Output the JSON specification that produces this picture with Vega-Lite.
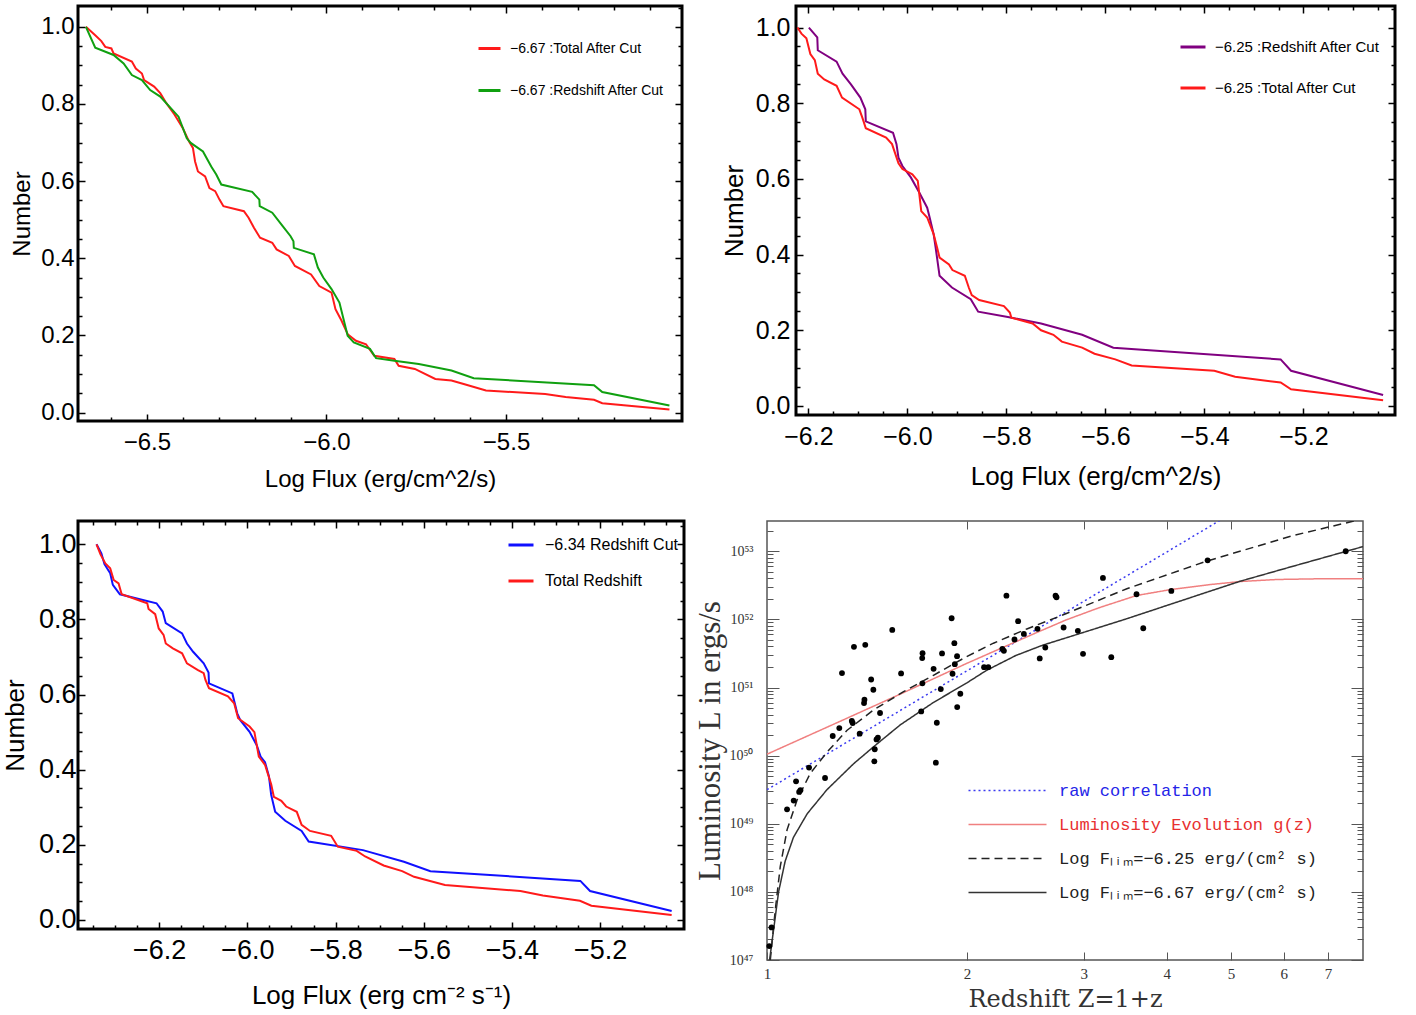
{
"$schema": "https://vega.github.io/schema/vega-lite/v6.json",
"background": "white",
"padding": {"left": 0, "top": 3, "right": 5, "bottom": 5},
"config": {
  "font": "Liberation Sans",
  "view": {"stroke": "black", "strokeWidth": 3},
  "axis": {"domain": false, "grid": false, "labelColor": "black", "titleColor": "black", "titleFontWeight": "normal", "tickColor": "black", "tickWidth": 1.5, "labelOverlap": false, "labelFlush": false, "labelBound": false}
},
"datasets": {
"tl": [
{"x":-6.670,"n":1.0,"s":"T"},{"x":-6.644,"n":0.978,"s":"T"},{"x":-6.627,"n":0.963,"s":"T"},{"x":-6.616,"n":0.948,"s":"T"},{"x":-6.599,"n":0.944,"s":"T"},{"x":-6.593,"n":0.931,"s":"T"},{"x":-6.542,"n":0.910,"s":"T"},{"x":-6.531,"n":0.892,"s":"T"},{"x":-6.514,"n":0.879,"s":"T"},{"x":-6.508,"n":0.862,"s":"T"},{"x":-6.480,"n":0.845,"s":"T"},{"x":-6.463,"n":0.828,"s":"T"},{"x":-6.446,"n":0.802,"s":"T"},{"x":-6.423,"n":0.772,"s":"T"},{"x":-6.400,"n":0.737,"s":"T"},{"x":-6.383,"n":0.703,"s":"T"},{"x":-6.372,"n":0.686,"s":"T"},{"x":-6.366,"n":0.651,"s":"T"},{"x":-6.358,"n":0.625,"s":"T"},{"x":-6.338,"n":0.612,"s":"T"},{"x":-6.326,"n":0.582,"s":"T"},{"x":-6.310,"n":0.574,"s":"T"},{"x":-6.298,"n":0.552,"s":"T"},{"x":-6.287,"n":0.535,"s":"T"},{"x":-6.230,"n":0.522,"s":"T"},{"x":-6.217,"n":0.505,"s":"T"},{"x":-6.202,"n":0.479,"s":"T"},{"x":-6.185,"n":0.453,"s":"T"},{"x":-6.151,"n":0.440,"s":"T"},{"x":-6.139,"n":0.423,"s":"T"},{"x":-6.105,"n":0.406,"s":"T"},{"x":-6.088,"n":0.380,"s":"T"},{"x":-6.043,"n":0.358,"s":"T"},{"x":-6.020,"n":0.328,"s":"T"},{"x":-5.986,"n":0.311,"s":"T"},{"x":-5.975,"n":0.268,"s":"T"},{"x":-5.958,"n":0.238,"s":"T"},{"x":-5.941,"n":0.203,"s":"T"},{"x":-5.918,"n":0.186,"s":"T"},{"x":-5.890,"n":0.177,"s":"T"},{"x":-5.867,"n":0.147,"s":"T"},{"x":-5.811,"n":0.139,"s":"T"},{"x":-5.799,"n":0.121,"s":"T"},{"x":-5.754,"n":0.113,"s":"T"},{"x":-5.697,"n":0.087,"s":"T"},{"x":-5.652,"n":0.083,"s":"T"},{"x":-5.618,"n":0.074,"s":"T"},{"x":-5.556,"n":0.057,"s":"T"},{"x":-5.391,"n":0.048,"s":"T"},{"x":-5.334,"n":0.040,"s":"T"},{"x":-5.255,"n":0.033,"s":"T"},{"x":-5.232,"n":0.024,"s":"T"},{"x":-5.045,"n":0.008,"s":"T"},
{"x":-6.670,"n":1.0,"s":"R"},{"x":-6.644,"n":0.946,"s":"R"},{"x":-6.593,"n":0.927,"s":"R"},{"x":-6.565,"n":0.905,"s":"R"},{"x":-6.542,"n":0.875,"s":"R"},{"x":-6.514,"n":0.862,"s":"R"},{"x":-6.491,"n":0.836,"s":"R"},{"x":-6.463,"n":0.819,"s":"R"},{"x":-6.412,"n":0.767,"s":"R"},{"x":-6.389,"n":0.711,"s":"R"},{"x":-6.378,"n":0.699,"s":"R"},{"x":-6.344,"n":0.677,"s":"R"},{"x":-6.321,"n":0.638,"s":"R"},{"x":-6.307,"n":0.617,"s":"R"},{"x":-6.293,"n":0.591,"s":"R"},{"x":-6.207,"n":0.572,"s":"R"},{"x":-6.187,"n":0.552,"s":"R"},{"x":-6.186,"n":0.535,"s":"R"},{"x":-6.151,"n":0.518,"s":"R"},{"x":-6.122,"n":0.483,"s":"R"},{"x":-6.100,"n":0.457,"s":"R"},{"x":-6.092,"n":0.444,"s":"R"},{"x":-6.091,"n":0.427,"s":"R"},{"x":-6.035,"n":0.410,"s":"R"},{"x":-6.024,"n":0.376,"s":"R"},{"x":-6.009,"n":0.350,"s":"R"},{"x":-5.986,"n":0.320,"s":"R"},{"x":-5.964,"n":0.285,"s":"R"},{"x":-5.941,"n":0.199,"s":"R"},{"x":-5.924,"n":0.182,"s":"R"},{"x":-5.879,"n":0.165,"s":"R"},{"x":-5.862,"n":0.141,"s":"R"},{"x":-5.811,"n":0.134,"s":"R"},{"x":-5.743,"n":0.126,"s":"R"},{"x":-5.652,"n":0.109,"s":"R"},{"x":-5.590,"n":0.089,"s":"R"},{"x":-5.255,"n":0.071,"s":"R"},{"x":-5.232,"n":0.053,"s":"R"},{"x":-5.045,"n":0.018,"s":"R"}
],
"tr": [
{"x":-6.199,"n":1.0,"s":"R"},{"x":-6.182,"n":0.974,"s":"R"},{"x":-6.181,"n":0.940,"s":"R"},{"x":-6.143,"n":0.910,"s":"R"},{"x":-6.131,"n":0.878,"s":"R"},{"x":-6.114,"n":0.850,"s":"R"},{"x":-6.095,"n":0.815,"s":"R"},{"x":-6.085,"n":0.784,"s":"R"},{"x":-6.084,"n":0.752,"s":"R"},{"x":-6.029,"n":0.722,"s":"R"},{"x":-6.022,"n":0.692,"s":"R"},{"x":-6.018,"n":0.656,"s":"R"},{"x":-6.010,"n":0.634,"s":"R"},{"x":-5.993,"n":0.604,"s":"R"},{"x":-5.976,"n":0.564,"s":"R"},{"x":-5.960,"n":0.524,"s":"R"},{"x":-5.955,"n":0.498,"s":"R"},{"x":-5.947,"n":0.454,"s":"R"},{"x":-5.943,"n":0.419,"s":"R"},{"x":-5.935,"n":0.344,"s":"R"},{"x":-5.910,"n":0.313,"s":"R"},{"x":-5.872,"n":0.282,"s":"R"},{"x":-5.857,"n":0.249,"s":"R"},{"x":-5.797,"n":0.235,"s":"R"},{"x":-5.730,"n":0.218,"s":"R"},{"x":-5.647,"n":0.188,"s":"R"},{"x":-5.584,"n":0.154,"s":"R"},{"x":-5.246,"n":0.123,"s":"R"},{"x":-5.225,"n":0.093,"s":"R"},{"x":-5.039,"n":0.029,"s":"R"},
{"x":-6.222,"n":1.0,"s":"T"},{"x":-6.214,"n":0.984,"s":"T"},{"x":-6.204,"n":0.972,"s":"T"},{"x":-6.196,"n":0.930,"s":"T"},{"x":-6.187,"n":0.914,"s":"T"},{"x":-6.181,"n":0.878,"s":"T"},{"x":-6.168,"n":0.863,"s":"T"},{"x":-6.143,"n":0.846,"s":"T"},{"x":-6.132,"n":0.815,"s":"T"},{"x":-6.097,"n":0.784,"s":"T"},{"x":-6.091,"n":0.762,"s":"T"},{"x":-6.084,"n":0.734,"s":"T"},{"x":-6.043,"n":0.709,"s":"T"},{"x":-6.031,"n":0.692,"s":"T"},{"x":-6.018,"n":0.641,"s":"T"},{"x":-6.010,"n":0.626,"s":"T"},{"x":-5.990,"n":0.612,"s":"T"},{"x":-5.979,"n":0.595,"s":"T"},{"x":-5.972,"n":0.515,"s":"T"},{"x":-5.960,"n":0.498,"s":"T"},{"x":-5.947,"n":0.454,"s":"T"},{"x":-5.940,"n":0.419,"s":"T"},{"x":-5.935,"n":0.392,"s":"T"},{"x":-5.916,"n":0.374,"s":"T"},{"x":-5.909,"n":0.359,"s":"T"},{"x":-5.884,"n":0.344,"s":"T"},{"x":-5.876,"n":0.313,"s":"T"},{"x":-5.870,"n":0.293,"s":"T"},{"x":-5.855,"n":0.280,"s":"T"},{"x":-5.805,"n":0.264,"s":"T"},{"x":-5.793,"n":0.247,"s":"T"},{"x":-5.790,"n":0.233,"s":"T"},{"x":-5.747,"n":0.218,"s":"T"},{"x":-5.730,"n":0.200,"s":"T"},{"x":-5.705,"n":0.188,"s":"T"},{"x":-5.688,"n":0.170,"s":"T"},{"x":-5.647,"n":0.154,"s":"T"},{"x":-5.622,"n":0.138,"s":"T"},{"x":-5.580,"n":0.123,"s":"T"},{"x":-5.547,"n":0.107,"s":"T"},{"x":-5.380,"n":0.093,"s":"T"},{"x":-5.338,"n":0.077,"s":"T"},{"x":-5.246,"n":0.062,"s":"T"},{"x":-5.225,"n":0.044,"s":"T"},{"x":-5.039,"n":0.015,"s":"T"}
],
"bl": [
{"x":-6.342,"n":1.0,"s":"B"},{"x":-6.331,"n":0.976,"s":"B"},{"x":-6.324,"n":0.947,"s":"B"},{"x":-6.311,"n":0.923,"s":"B"},{"x":-6.305,"n":0.892,"s":"B"},{"x":-6.289,"n":0.867,"s":"B"},{"x":-6.206,"n":0.843,"s":"B"},{"x":-6.192,"n":0.821,"s":"B"},{"x":-6.185,"n":0.790,"s":"B"},{"x":-6.148,"n":0.763,"s":"B"},{"x":-6.137,"n":0.736,"s":"B"},{"x":-6.123,"n":0.714,"s":"B"},{"x":-6.099,"n":0.683,"s":"B"},{"x":-6.088,"n":0.659,"s":"B"},{"x":-6.087,"n":0.630,"s":"B"},{"x":-6.034,"n":0.603,"s":"B"},{"x":-6.023,"n":0.550,"s":"B"},{"x":-6.016,"n":0.532,"s":"B"},{"x":-5.995,"n":0.501,"s":"B"},{"x":-5.979,"n":0.466,"s":"B"},{"x":-5.970,"n":0.435,"s":"B"},{"x":-5.960,"n":0.420,"s":"B"},{"x":-5.951,"n":0.382,"s":"B"},{"x":-5.946,"n":0.333,"s":"B"},{"x":-5.937,"n":0.288,"s":"B"},{"x":-5.914,"n":0.264,"s":"B"},{"x":-5.877,"n":0.237,"s":"B"},{"x":-5.861,"n":0.209,"s":"B"},{"x":-5.738,"n":0.186,"s":"B"},{"x":-5.645,"n":0.155,"s":"B"},{"x":-5.585,"n":0.130,"s":"B"},{"x":-5.245,"n":0.104,"s":"B"},{"x":-5.223,"n":0.077,"s":"B"},{"x":-5.038,"n":0.024,"s":"B"},
{"x":-6.342,"n":1.0,"s":"T"},{"x":-6.333,"n":0.973,"s":"T"},{"x":-6.322,"n":0.949,"s":"T"},{"x":-6.311,"n":0.936,"s":"T"},{"x":-6.303,"n":0.905,"s":"T"},{"x":-6.292,"n":0.896,"s":"T"},{"x":-6.285,"n":0.867,"s":"T"},{"x":-6.227,"n":0.843,"s":"T"},{"x":-6.224,"n":0.828,"s":"T"},{"x":-6.209,"n":0.814,"s":"T"},{"x":-6.201,"n":0.776,"s":"T"},{"x":-6.190,"n":0.759,"s":"T"},{"x":-6.185,"n":0.736,"s":"T"},{"x":-6.169,"n":0.723,"s":"T"},{"x":-6.148,"n":0.710,"s":"T"},{"x":-6.137,"n":0.683,"s":"T"},{"x":-6.113,"n":0.666,"s":"T"},{"x":-6.099,"n":0.657,"s":"T"},{"x":-6.095,"n":0.639,"s":"T"},{"x":-6.087,"n":0.617,"s":"T"},{"x":-6.044,"n":0.595,"s":"T"},{"x":-6.030,"n":0.577,"s":"T"},{"x":-6.021,"n":0.537,"s":"T"},{"x":-5.995,"n":0.515,"s":"T"},{"x":-5.984,"n":0.500,"s":"T"},{"x":-5.974,"n":0.435,"s":"T"},{"x":-5.960,"n":0.413,"s":"T"},{"x":-5.946,"n":0.361,"s":"T"},{"x":-5.940,"n":0.328,"s":"T"},{"x":-5.923,"n":0.317,"s":"T"},{"x":-5.912,"n":0.302,"s":"T"},{"x":-5.888,"n":0.288,"s":"T"},{"x":-5.877,"n":0.253,"s":"T"},{"x":-5.858,"n":0.237,"s":"T"},{"x":-5.810,"n":0.224,"s":"T"},{"x":-5.795,"n":0.195,"s":"T"},{"x":-5.752,"n":0.184,"s":"T"},{"x":-5.733,"n":0.169,"s":"T"},{"x":-5.691,"n":0.145,"s":"T"},{"x":-5.649,"n":0.130,"s":"T"},{"x":-5.622,"n":0.115,"s":"T"},{"x":-5.552,"n":0.093,"s":"T"},{"x":-5.381,"n":0.077,"s":"T"},{"x":-5.330,"n":0.065,"s":"T"},{"x":-5.246,"n":0.051,"s":"T"},{"x":-5.220,"n":0.038,"s":"T"},{"x":-5.038,"n":0.013,"s":"T"}
],
"brl": [
{"z":1,"L":3.16e49,"s":"raw"},{"z":4.9,"L":3.16e53,"s":"raw"},
{"z":1,"L":1.05e50,"s":"evo"},{"z":1.259,"L":2.88e50,"s":"evo"},{"z":1.585,"L":7.94e50,"s":"evo"},{"z":1.995,"L":2.24e51,"s":"evo"},{"z":2.512,"L":6.03e51,"s":"evo"},{"z":2.818,"L":9.77e51,"s":"evo"},{"z":3.162,"L":1.48e52,"s":"evo"},{"z":3.602,"L":2.24e52,"s":"evo"},{"z":4.064,"L":2.75e52,"s":"evo"},{"z":4.645,"L":3.24e52,"s":"evo"},{"z":5.152,"L":3.59e52,"s":"evo"},{"z":5.861,"L":3.85e52,"s":"evo"},{"z":6.761,"L":3.94e52,"s":"evo"},{"z":7.9,"L":3.96e52,"s":"evo"},
{"z":1.0115,"L":1e47,"s":"d"},{"z":1.029,"L":5.37e47,"s":"d"},{"z":1.047,"L":2.34e48,"s":"d"},{"z":1.072,"L":8.13e48,"s":"d"},{"z":1.110,"L":2.24e49,"s":"d"},{"z":1.162,"L":5.50e49,"s":"d"},{"z":1.231,"L":1.12e50,"s":"d"},{"z":1.319,"L":2.34e50,"s":"d"},{"z":1.447,"L":4.68e50,"s":"d"},{"z":1.606,"L":8.71e50,"s":"d"},{"z":1.781,"L":1.51e51,"s":"d"},{"z":1.995,"L":2.82e51,"s":"d"},{"z":2.193,"L":4.47e51,"s":"d"},{"z":2.462,"L":7.24e51,"s":"d"},{"z":2.764,"L":1.12e52,"s":"d"},{"z":3.483,"L":2.82e52,"s":"d"},{"z":4.595,"L":7.16e52,"s":"d"},{"z":6.2,"L":1.70e53,"s":"d"},{"z":7.9,"L":2.99e53,"s":"d"},
{"z":1.009,"L":1e47,"s":"s"},{"z":1.023,"L":2.75e47,"s":"s"},{"z":1.041,"L":1.0e48,"s":"s"},{"z":1.065,"L":2.82e48,"s":"s"},{"z":1.096,"L":6.31e48,"s":"s"},{"z":1.15,"L":1.41e49,"s":"s"},{"z":1.231,"L":3.16e49,"s":"s"},{"z":1.35,"L":7.59e49,"s":"s"},{"z":1.455,"L":1.41e50,"s":"s"},{"z":1.587,"L":2.82e50,"s":"s"},{"z":1.781,"L":6.03e50,"s":"s"},{"z":2.0,"L":1.17e51,"s":"s"},{"z":2.14,"L":1.78e51,"s":"s"},{"z":2.37,"L":2.95e51,"s":"s"},{"z":2.6,"L":4.17e51,"s":"s"},{"z":3.0,"L":6.46e51,"s":"s"},{"z":3.48,"L":1.02e52,"s":"s"},{"z":4.6,"L":2.51e52,"s":"s"},{"z":5.16,"L":3.63e52,"s":"s"},{"z":6.2,"L":6.03e52,"s":"s"},{"z":7.9,"L":1.17e53,"s":"s"}
],
"brp": [
{"z":1.008,"L":1.60e47},{"z":1.016,"L":3.01e47},{"z":1.072,"L":1.63e49},{"z":1.097,"L":2.19e49},{"z":1.106,"L":4.20e49},{"z":1.118,"L":2.93e49},{"z":1.123,"L":3.10e49},{"z":1.157,"L":6.67e49},{"z":1.223,"L":4.70e49},{"z":1.256,"L":1.94e50},{"z":1.285,"L":2.54e50},{"z":1.297,"L":1.63e51},{"z":1.342,"L":3.22e50},{"z":1.346,"L":3.01e50},{"z":1.352,"L":3.95e51},{"z":1.379,"L":2.10e50},{"z":1.400,"L":5.90e50},{"z":1.402,"L":6.61e50},{"z":1.406,"L":4.23e51},{"z":1.435,"L":1.31e51},{"z":1.446,"L":9.27e50},{"z":1.451,"L":8.24e49},{"z":1.453,"L":1.24e50},{"z":1.462,"L":1.73e50},{"z":1.469,"L":1.83e50},{"z":1.480,"L":4.22e50},{"z":1.544,"L":7.01e51},{"z":1.592,"L":1.61e51},{"z":1.707,"L":4.46e50},{"z":1.713,"L":2.70e51},{"z":1.714,"L":1.15e51},{"z":1.715,"L":3.19e51},{"z":1.782,"L":1.88e51},{"z":1.796,"L":7.89e49},{"z":1.802,"L":3.04e50},{"z":1.827,"L":9.48e50},{"z":1.835,"L":3.16e51},{"z":1.897,"L":1.04e52},{"z":1.903,"L":1.59e51},{"z":1.915,"L":4.48e51},{"z":1.918,"L":2.20e51},{"z":1.933,"L":2.88e51},{"z":1.934,"L":5.16e50},{"z":1.955,"L":8.09e50},{"z":2.123,"L":1.99e51},{"z":2.154,"L":1.99e51},{"z":2.262,"L":3.70e51},{"z":2.274,"L":3.45e51},{"z":2.294,"L":2.23e52},{"z":2.359,"L":5.07e51},{"z":2.389,"L":9.40e51},{"z":2.437,"L":6.12e51},{"z":2.555,"L":7.26e51},{"z":2.575,"L":2.67e51},{"z":2.625,"L":3.86e51},{"z":2.720,"L":2.23e52},{"z":2.729,"L":2.11e52},{"z":2.797,"L":7.59e51},{"z":2.939,"L":6.79e51},{"z":2.992,"L":3.12e51},{"z":3.206,"L":4.06e52},{"z":3.300,"L":2.79e51},{"z":3.602,"L":2.34e52},{"z":3.687,"L":7.41e51},{"z":4.064,"L":2.62e52},{"z":4.609,"L":7.36e52},{"z":7.44,"L":1.0e53}
]
},
"resolve": {"scale": {"color": "independent", "strokeDash": "independent"}, "legend": {"color": "independent", "strokeDash": "independent"}},
"spacing": 25,
"vconcat": [
{
"spacing": 34,
"resolve": {"scale": {"color": "independent"}, "legend": {"color": "independent"}},
"hconcat": [
{
"width": 604, "height": 415,
"data": {"name": "tl"},
"layer": [
{"mark": {"type": "line", "strokeWidth": 2, "clip": true},
 "encoding": {
  "x": {"field": "x", "type": "quantitative", "scale": {"domain": [-6.692, -5.01], "nice": false, "zero": false},
        "axis": {"orient": "bottom", "values": [-6.6,-6.5,-6.4,-6.3,-6.2,-6.1,-6.0,-5.9,-5.8,-5.7,-5.6,-5.5,-5.4,-5.3,-5.2,-5.1], "format": ".1f",
                 "labelExpr": "abs(datum.value*2-round(datum.value*2))<0.001 ? datum.label : ''",
                 "tickSize": {"condition": {"test": "abs(datum.value*2-round(datum.value*2))<0.001", "value": -7}, "value": -4},
                 "labelPadding": 16, "labelFontSize": 24, "title": "Log Flux (erg/cm^2/s)", "titleFontSize": 24, "titlePadding": 10}},
  "y": {"field": "n", "type": "quantitative", "scale": {"domain": [-0.022, 1.054], "nice": false, "zero": false},
        "axis": {"orient": "left", "values": [0,0.05,0.1,0.15,0.2,0.25,0.3,0.35,0.4,0.45,0.5,0.55,0.6,0.65,0.7,0.75,0.8,0.85,0.9,0.95,1], "format": ".1f",
                 "labelExpr": "abs(datum.value*5-round(datum.value*5))<0.001 ? datum.label : ''",
                 "tickSize": {"condition": {"test": "abs(datum.value*5-round(datum.value*5))<0.001", "value": -7}, "value": -4},
                 "labelPadding": 11, "labelFontSize": 24, "title": "Number", "titleFontSize": 24, "titlePadding": 6}},
  "color": {"field": "s", "type": "nominal", "scale": {"domain": ["T", "R"], "range": ["#ff1a1a", "#10a010"]},
            "legend": {"orient": "none", "legendX": 399, "legendY": 30, "title": null, "symbolType": "stroke", "symbolSize": 484, "symbolStrokeWidth": 3,
                       "labelFontSize": 14, "labelOffset": 8, "rowPadding": 22, "labelColor": "black", "labelLimit": 0,
                       "labelExpr": "datum.value == 'T' ? '−6.67 :Total After Cut' : '−6.67 :Redshift After Cut'"}}
 }},
{"mark": {"type": "line", "opacity": 0},
 "encoding": {
  "x": {"field": "x", "type": "quantitative",
        "axis": {"orient": "top", "values": [-6.6,-6.5,-6.4,-6.3,-6.2,-6.1,-6.0,-5.9,-5.8,-5.7,-5.6,-5.5,-5.4,-5.3,-5.2,-5.1], "labels": false, "title": null,
                 "tickSize": {"condition": {"test": "abs(datum.value*2-round(datum.value*2))<0.001", "value": -7}, "value": -4}}},
  "y": {"field": "n", "type": "quantitative",
        "axis": {"orient": "right", "values": [0,0.05,0.1,0.15,0.2,0.25,0.3,0.35,0.4,0.45,0.5,0.55,0.6,0.65,0.7,0.75,0.8,0.85,0.9,0.95,1,1.05], "labels": false, "title": null,
                 "tickSize": {"condition": {"test": "abs(datum.value*5-round(datum.value*5))<0.001", "value": -7}, "value": -4}}}
 }}
],
"resolve": {"axis": {"x": "independent", "y": "independent"}}
},
{
"width": 599, "height": 409,
"data": {"name": "tr"},
"layer": [
{"mark": {"type": "line", "strokeWidth": 2, "clip": true},
 "encoding": {
  "x": {"field": "x", "type": "quantitative", "scale": {"domain": [-6.225, -5.015], "nice": false, "zero": false},
        "axis": {"orient": "bottom", "values": [-6.2,-6.15,-6.1,-6.05,-6,-5.95,-5.9,-5.85,-5.8,-5.75,-5.7,-5.65,-5.6,-5.55,-5.5,-5.45,-5.4,-5.35,-5.3,-5.25,-5.2,-5.15,-5.1,-5.05], "format": ".1f",
                 "labelExpr": "abs(datum.value*5-round(datum.value*5))<0.001 ? datum.label : ''",
                 "tickSize": {"condition": {"test": "abs(datum.value*5-round(datum.value*5))<0.001", "value": -7}, "value": -4},
                 "labelPadding": 16, "labelFontSize": 25, "title": "Log Flux (erg/cm^2/s)", "titleFontSize": 26, "titlePadding": 11}},
  "y": {"field": "n", "type": "quantitative", "scale": {"domain": [-0.024, 1.057], "nice": false, "zero": false},
        "axis": {"orient": "left", "values": [0,0.05,0.1,0.15,0.2,0.25,0.3,0.35,0.4,0.45,0.5,0.55,0.6,0.65,0.7,0.75,0.8,0.85,0.9,0.95,1], "format": ".1f",
                 "labelExpr": "abs(datum.value*5-round(datum.value*5))<0.001 ? datum.label : ''",
                 "tickSize": {"condition": {"test": "abs(datum.value*5-round(datum.value*5))<0.001", "value": -7}, "value": -4},
                 "labelPadding": 13, "labelFontSize": 25, "title": "Number", "titleFontSize": 26, "titlePadding": 8}},
  "color": {"field": "s", "type": "nominal", "scale": {"domain": ["R", "T"], "range": ["#800080", "#ff1a1a"]},
            "legend": {"orient": "none", "legendX": 383, "legendY": 27, "title": null, "symbolType": "stroke", "symbolSize": 625, "symbolStrokeWidth": 3,
                       "labelFontSize": 15, "labelOffset": 8, "rowPadding": 19, "labelColor": "black", "labelLimit": 0,
                       "labelExpr": "datum.value == 'R' ? '−6.25 :Redshift After Cut' : '−6.25 :Total After Cut'"}}
 }},
{"mark": {"type": "line", "opacity": 0},
 "encoding": {
  "x": {"field": "x", "type": "quantitative",
        "axis": {"orient": "top", "values": [-6.2,-6.15,-6.1,-6.05,-6,-5.95,-5.9,-5.85,-5.8,-5.75,-5.7,-5.65,-5.6,-5.55,-5.5,-5.45,-5.4,-5.35,-5.3,-5.25,-5.2,-5.15,-5.1,-5.05], "labels": false, "title": null,
                 "tickSize": {"condition": {"test": "abs(datum.value*5-round(datum.value*5))<0.001", "value": -7}, "value": -4}}},
  "y": {"field": "n", "type": "quantitative",
        "axis": {"orient": "right", "values": [0,0.05,0.1,0.15,0.2,0.25,0.3,0.35,0.4,0.45,0.5,0.55,0.6,0.65,0.7,0.75,0.8,0.85,0.9,0.95,1,1.05], "labels": false, "title": null,
                 "tickSize": {"condition": {"test": "abs(datum.value*5-round(datum.value*5))<0.001", "value": -7}, "value": -4}}}
 }}
],
"resolve": {"axis": {"x": "independent", "y": "independent"}}
}
]
},
{
"spacing": 6,
"resolve": {"scale": {"color": "independent", "strokeDash": "independent"}, "legend": {"color": "independent", "strokeDash": "independent"}},
"hconcat": [
{
"width": 606, "height": 408,
"data": {"name": "bl"},
"layer": [
{"mark": {"type": "line", "strokeWidth": 2, "clip": true},
 "encoding": {
  "x": {"field": "x", "type": "quantitative", "scale": {"domain": [-6.384, -5.01], "nice": false, "zero": false},
        "axis": {"orient": "bottom", "values": [-6.35,-6.3,-6.25,-6.2,-6.15,-6.1,-6.05,-6,-5.95,-5.9,-5.85,-5.8,-5.75,-5.7,-5.65,-5.6,-5.55,-5.5,-5.45,-5.4,-5.35,-5.3,-5.25,-5.2,-5.15,-5.1,-5.05], "format": ".1f",
                 "labelExpr": "abs(datum.value*5-round(datum.value*5))<0.001 ? datum.label : ''",
                 "tickSize": {"condition": {"test": "abs(datum.value*5-round(datum.value*5))<0.001", "value": -7}, "value": -4},
                 "labelPadding": 15, "labelFontSize": 27, "title": "Log Flux (erg cm⁻² s⁻¹)", "titleFontSize": 26, "titlePadding": 16}},
  "y": {"field": "n", "type": "quantitative", "scale": {"domain": [-0.024, 1.062], "nice": false, "zero": false},
        "axis": {"orient": "left", "values": [0,0.05,0.1,0.15,0.2,0.25,0.3,0.35,0.4,0.45,0.5,0.55,0.6,0.65,0.7,0.75,0.8,0.85,0.9,0.95,1], "format": ".1f",
                 "labelExpr": "abs(datum.value*5-round(datum.value*5))<0.001 ? datum.label : ''",
                 "tickSize": {"condition": {"test": "abs(datum.value*5-round(datum.value*5))<0.001", "value": -7}, "value": -4},
                 "labelPadding": 9, "labelFontSize": 27, "title": "Number", "titleFontSize": 26, "titlePadding": 10}},
  "color": {"field": "s", "type": "nominal", "scale": {"domain": ["B", "T"], "range": ["#1010ff", "#ff1a1a"]},
            "legend": {"orient": "none", "legendX": 429, "legendY": 10, "title": null, "symbolType": "stroke", "symbolSize": 625, "symbolStrokeWidth": 3,
                       "labelFontSize": 16, "labelOffset": 10, "rowPadding": 14, "labelColor": "black", "labelLimit": 0,
                       "labelExpr": "datum.value == 'B' ? '−6.34 Redshift Cut' : 'Total Redshift'"}}
 }},
{"mark": {"type": "line", "opacity": 0},
 "encoding": {
  "x": {"field": "x", "type": "quantitative",
        "axis": {"orient": "top", "values": [-6.35,-6.3,-6.25,-6.2,-6.15,-6.1,-6.05,-6,-5.95,-5.9,-5.85,-5.8,-5.75,-5.7,-5.65,-5.6,-5.55,-5.5,-5.45,-5.4,-5.35,-5.3,-5.25,-5.2,-5.15,-5.1,-5.05], "labels": false, "title": null,
                 "tickSize": {"condition": {"test": "abs(datum.value*5-round(datum.value*5))<0.001", "value": -7}, "value": -4}}},
  "y": {"field": "n", "type": "quantitative",
        "axis": {"orient": "right", "values": [0,0.05,0.1,0.15,0.2,0.25,0.3,0.35,0.4,0.45,0.5,0.55,0.6,0.65,0.7,0.75,0.8,0.85,0.9,0.95,1,1.05], "labels": false, "title": null,
                 "tickSize": {"condition": {"test": "abs(datum.value*5-round(datum.value*5))<0.001", "value": -7}, "value": -4}}}
 }}
],
"resolve": {"axis": {"x": "independent", "y": "independent"}}
},
{
"width": 596, "height": 439,
"view": {"stroke": "#555555", "strokeWidth": 1.5},
"layer": [
{"data": {"name": "brl"},
 "mark": {"type": "line", "strokeWidth": 1.5, "clip": true},
 "encoding": {
  "x": {"field": "z", "type": "quantitative", "scale": {"type": "log", "domain": [1, 7.9], "nice": false},
        "axis": {"orient": "bottom", "values": [1,2,3,4,5,6,7], "format": "d", "tickSize": -8, "tickColor": "#555555", "tickWidth": 1,
                 "labelPadding": 14, "labelFont": "Liberation Serif", "labelFontSize": 15, "labelColor": "#333333",
                 "title": "Redshift  Z=1+z", "titleFont": "DejaVu Serif", "titleFontSize": 24, "titleColor": "#333333", "titlePadding": 6}},
  "y": {"field": "L", "type": "quantitative", "scale": {"type": "log", "domain": [1e47, 2.78e53], "nice": false},
        "axis": {"orient": "left", "values": [1e47,2e47,3e47,4e47,5e47,6e47,7e47,8e47,9e47,1e48,2e48,3e48,4e48,5e48,6e48,7e48,8e48,9e48,1e49,2e49,3e49,4e49,5e49,6e49,7e49,8e49,9e49,1e50,2e50,3e50,4e50,5e50,6e50,7e50,8e50,9e50,1e51,2e51,3e51,4e51,5e51,6e51,7e51,8e51,9e51,1e52,2e52,3e52,4e52,5e52,6e52,7e52,8e52,9e52,1e53,2e53],
                 "labelExpr": "abs(log(datum.value)/LN10-round(log(datum.value)/LN10))<0.001 ? '10' + ['⁰','¹','²','³','⁴','⁵','⁶','⁷','⁸','⁹'][floor(round(log(datum.value)/LN10)/10)] + ['⁰','¹','²','³','⁴','⁵','⁶','⁷','⁸','⁹'][round(log(datum.value)/LN10)%10] : ''",
                 "tickSize": {"condition": {"test": "abs(log(datum.value)/LN10-round(log(datum.value)/LN10))<0.001", "value": -12}, "value": -6},
                 "tickColor": "#555555", "tickWidth": 1,
                 "labelPadding": 26, "labelFont": "Liberation Serif", "labelFontSize": 14, "labelColor": "#333333",
                 "title": "Luminosity L in ergs/s", "titleFont": "Liberation Serif", "titleFontSize": 31, "titleColor": "#333333", "titlePadding": 3}},
  "color": {"field": "s", "type": "nominal", "scale": {"domain": ["raw", "evo", "d", "s"], "range": ["#3a3af0", "#f08080", "#222222", "#333333"]},
            "legend": {"orient": "none", "legendX": 232, "legendY": 261, "title": null, "symbolType": "M-6,0H6", "symbolSize": 169, "symbolStrokeWidth": 1.5, "symbolFillColor": "transparent",
                       "labelFont": "Liberation Mono", "labelFontSize": 17, "labelOffset": 43, "rowPadding": 16, "labelLimit": 0,
                       "labelExpr": "datum.value == 'raw' ? 'raw correlation' : datum.value == 'evo' ? 'Luminosity Evolution g(z)' : datum.value == 'd' ? 'Log Fₗᵢₘ=−6.25 erg/(cm² s)' : 'Log Fₗᵢₘ=−6.67 erg/(cm² s)'",
                       "encode": {"labels": {"update": {"fill": {"signal": "datum.value == 'raw' ? '#2424e8' : datum.value == 'evo' ? '#e83030' : '#222222'"}}}}}},
  "strokeDash": {"field": "s", "type": "nominal", "scale": {"domain": ["raw", "evo", "d", "s"], "range": [[2, 3], [1, 0], [8, 5], [1, 0]]},
            "legend": {"orient": "none", "legendX": 232, "legendY": 261, "title": null, "symbolType": "M-6,0H6", "symbolSize": 169, "symbolStrokeWidth": 1.5, "symbolFillColor": "transparent",
                       "labelFont": "Liberation Mono", "labelFontSize": 17, "labelOffset": 43, "rowPadding": 16, "labelLimit": 0,
                       "labelExpr": "datum.value == 'raw' ? 'raw correlation' : datum.value == 'evo' ? 'Luminosity Evolution g(z)' : datum.value == 'd' ? 'Log Fₗᵢₘ=−6.25 erg/(cm² s)' : 'Log Fₗᵢₘ=−6.67 erg/(cm² s)'",
                       "encode": {"labels": {"update": {"fill": {"signal": "datum.value == 'raw' ? '#2424e8' : datum.value == 'evo' ? '#e83030' : '#222222'"}}}}}}
 }},
{"data": {"name": "brp"},
 "mark": {"type": "circle", "size": 34, "color": "black", "opacity": 1},
 "encoding": {
  "x": {"field": "z", "type": "quantitative", "axis": null},
  "y": {"field": "L", "type": "quantitative", "axis": null}
 }},
{"data": {"name": "brp"},
 "mark": {"type": "circle", "opacity": 0},
 "encoding": {
  "x": {"field": "z", "type": "quantitative",
        "axis": {"orient": "top", "values": [2,3,4,5,6,7], "labels": false, "title": null, "tickSize": -8, "tickColor": "#555555", "tickWidth": 1}},
  "y": {"field": "L", "type": "quantitative",
        "axis": {"orient": "right", "values": [1e47,2e47,3e47,4e47,5e47,6e47,7e47,8e47,9e47,1e48,2e48,3e48,4e48,5e48,6e48,7e48,8e48,9e48,1e49,2e49,3e49,4e49,5e49,6e49,7e49,8e49,9e49,1e50,2e50,3e50,4e50,5e50,6e50,7e50,8e50,9e50,1e51,2e51,3e51,4e51,5e51,6e51,7e51,8e51,9e51,1e52,2e52,3e52,4e52,5e52,6e52,7e52,8e52,9e52,1e53,2e53],
                 "labels": false, "title": null, "tickColor": "#555555", "tickWidth": 1,
                 "tickSize": {"condition": {"test": "abs(log(datum.value)/LN10-round(log(datum.value)/LN10))<0.001", "value": -12}, "value": -6}}}
 }}
],
"resolve": {"axis": {"x": "independent", "y": "independent"}}
}
]
}
]
}
